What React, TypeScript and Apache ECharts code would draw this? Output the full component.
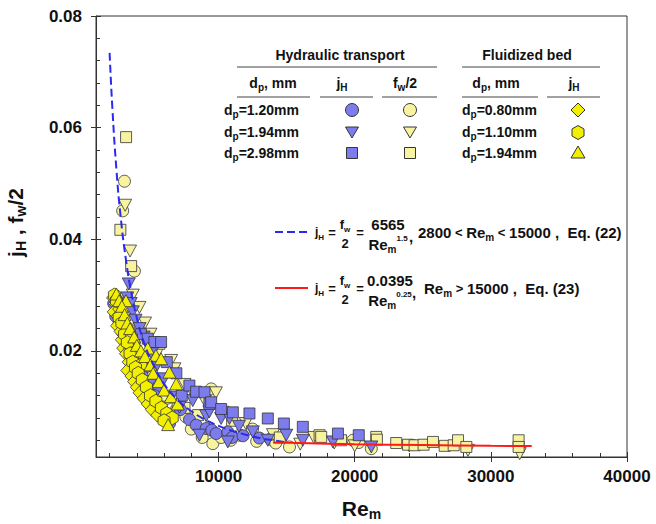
import React, { useEffect, useRef } from 'react';
import * as echarts from 'echarts';

const FONT = '"Liberation Sans", Arial, Helvetica, sans-serif';

// Axis tick values
const xTicks = [10000, 20000, 30000, 40000];
const yTicks = [0.02, 0.04, 0.06, 0.08];

// Correlation curves (Re_m, j_H)
const reEq22 = [2000, 2200, 2500, 2800, 3200, 3600, 4000, 4500, 5000, 6000, 7000, 8000, 9000, 10000, 11000, 12000, 13000, 14000, 15000];
const jEq22 = [0.0734, 0.0636, 0.0525, 0.0443, 0.0363, 0.0304, 0.0259, 0.0217, 0.0186, 0.0141, 0.0112, 0.0092, 0.0077, 0.0066, 0.0057, 0.005, 0.0044, 0.004, 0.0036];
const reEq23 = [14000, 16000, 20000, 25000, 30000, 33000];
const jEq23 = [0.0036, 0.0035, 0.0033, 0.00315, 0.003, 0.00295];

// Hydraulic transport, f_w/2 (light yellow)
const fw120: number[][] = [[3090, 0.0504], [2960, 0.0451], [3820, 0.0343], [2600, 0.029], [3000, 0.0265], [3400, 0.024], [3800, 0.0215], [4300, 0.019], [4900, 0.0165], [5500, 0.014], [6200, 0.0115], [6900, 0.0095], [9460, 0.0132], [9580, 0.0034], [11540, 0.0049], [15210, 0.0028], [19870, 0.004], [20300, 0.0036], [21220, 0.0025], [8000, 0.006], [12500, 0.006], [7600, 0.0082], [10200, 0.0045], [13800, 0.0042], [8800, 0.0045], [10900, 0.004], [12800, 0.0038], [14200, 0.0035]];
const fw194: number[][] = [[3140, 0.0461], [3500, 0.0379], [4190, 0.0278], [3700, 0.03], [4600, 0.025], [5000, 0.023], [6520, 0.0183], [6760, 0.0168], [5600, 0.02], [7500, 0.014], [8200, 0.012], [9000, 0.011], [10300, 0.009], [12000, 0.007], [14000, 0.005], [17000, 0.0045], [20000, 0.003], [24000, 0.003], [28320, 0.0022], [32120, 0.0016], [9800, 0.0125], [16000, 0.0033], [18500, 0.0035]];
const fw298: number[][] = [[3210, 0.0583], [2790, 0.0417], [3580, 0.0352], [2500, 0.028], [2900, 0.0255], [3300, 0.0235], [3800, 0.0205], [4200, 0.0185], [4700, 0.016], [5300, 0.014], [5660, 0.0213], [6000, 0.012], [7000, 0.01], [7500, 0.0098], [8500, 0.0085], [14500, 0.0045], [17420, 0.0049], [17540, 0.0046], [19000, 0.004], [21580, 0.0046], [21630, 0.0041], [23050, 0.0035], [23920, 0.0032], [24400, 0.0031], [25060, 0.0032], [25750, 0.0037], [26610, 0.003], [27270, 0.0031], [27590, 0.004], [28200, 0.0028], [32040, 0.004], [32040, 0.0028], [11000, 0.0075]];

// Hydraulic transport, j_H (blue)
const jh120: number[][] = [[2300, 0.0285], [2570, 0.0275], [2450, 0.0262], [2700, 0.025], [2900, 0.0235], [3100, 0.022], [3400, 0.02], [3700, 0.0185], [4100, 0.0175], [4630, 0.0171], [4400, 0.0155], [5000, 0.0145], [5610, 0.0137], [5300, 0.012], [5900, 0.0088], [6400, 0.007], [7200, 0.0095], [7865, 0.0077], [8355, 0.0067], [9090, 0.0061], [9500, 0.0058], [9826, 0.0052], [10680, 0.0055], [11000, 0.0045], [11800, 0.0048], [13000, 0.0044]];
const jh194: number[][] = [[3405, 0.032], [3300, 0.0295], [3550, 0.0285], [3700, 0.027], [3900, 0.0255], [4200, 0.024], [4500, 0.0225], [4800, 0.021], [5100, 0.0195], [5500, 0.0175], [6000, 0.015], [6517, 0.0117], [7130, 0.0099], [8110, 0.0111], [9090, 0.0084], [9330, 0.0091], [10190, 0.0079], [10800, 0.0079], [8600, 0.0049], [10680, 0.0037], [11500, 0.0065], [12520, 0.0055], [13620, 0.004], [14970, 0.0049], [16190, 0.004], [18400, 0.0037], [21220, 0.0028]];
const jh298: number[][] = [[4300, 0.023], [4800, 0.0222], [5290, 0.0216], [5780, 0.0216], [6200, 0.018], [6900, 0.016], [7300, 0.012], [7860, 0.0138], [8350, 0.0127], [8970, 0.0126], [9330, 0.0105], [9460, 0.0108], [10190, 0.0096], [11050, 0.009], [12270, 0.0088], [13620, 0.0079], [14800, 0.007], [16190, 0.0064], [18770, 0.0052], [20300, 0.0049]];

// Fluidized bed, j_H (bright yellow)
const fb080: number[][] = [[2250, 0.0295], [2400, 0.0285], [2300, 0.027], [2700, 0.0275], [2600, 0.0262], [2550, 0.0245], [2800, 0.0235], [2900, 0.022], [3000, 0.0205], [3500, 0.0205], [3200, 0.0195], [3400, 0.018], [3300, 0.0165], [3600, 0.0155], [3800, 0.0145], [4000, 0.0135], [4200, 0.0125], [4500, 0.0115], [4800, 0.0105], [5100, 0.0095], [5500, 0.0085]];
const fb110: number[][] = [[2350, 0.03], [2500, 0.029], [2700, 0.026], [2900, 0.025], [3100, 0.023], [3600, 0.0225], [3300, 0.0215], [3500, 0.0195], [3700, 0.018], [4300, 0.0175], [3900, 0.017], [4100, 0.016], [4400, 0.0148], [4700, 0.0135], [5000, 0.012], [5400, 0.011], [5800, 0.0098], [6200, 0.0088], [6600, 0.008], [6000, 0.0075]];
const fb194: number[][] = [[2500, 0.0302], [2700, 0.029], [3200, 0.029], [2900, 0.028], [3100, 0.0265], [3300, 0.025], [3500, 0.024], [3800, 0.0225], [4000, 0.021], [4800, 0.0205], [4300, 0.02], [4600, 0.019], [5400, 0.0192], [5780, 0.0186], [5000, 0.0175], [6390, 0.0162], [5200, 0.016], [5600, 0.0145], [6890, 0.0141], [6000, 0.013], [6500, 0.0118], [7000, 0.0105], [6300, 0.0068]];

const BLUE = '#7C7CEC';
const LYEL = '#F7F3A0';
const YEL = '#F2F000';
const EDGE = '#353535';
const HEX = 'path://M5,0 L10,2.6 L10,7.4 L5,10 L0,7.4 L0,2.6 Z';

const sub = (fs: number) => ({ fontSize: fs, fontWeight: 'bold', fontFamily: FONT, lineHeight: fs, verticalAlign: 'bottom', fill: '#111', color: '#111' });
const sup = (fs: number) => ({ fontSize: fs, fontWeight: 'bold', fontFamily: FONT, lineHeight: fs, verticalAlign: 'top', fill: '#111', color: '#111' });
const main = (fs: number, lh: number) => ({ fontSize: fs, fontWeight: 'bold', fontFamily: FONT, lineHeight: lh, verticalAlign: 'middle', fill: '#111', color: '#111' });

const RICH14 = { n: main(14, 18), s: sub(10) };
const RICH15 = { n: main(15, 20), s: sub(10), u: sup(8), o: main(13, 20) };
const RICHSM = { n: main(13, 18), j: main(12, 18), s: sub(8) };

function txt(x: number, y: number, text: string, rich: any, align = 'left') {
  return {
    type: 'text', x, y, z: 100, silent: true,
    style: { text, rich, font: `bold 14px ${FONT}`, fill: '#111', align, verticalAlign: 'middle', textAlign: align, textVerticalAlign: 'middle' },
  };
}
function hline(x1: number, x2: number, y: number, color = '#444', width = 1, dash?: number[]) {
  return { type: 'line', z: 100, silent: true, shape: { x1, y1: y, x2, y2: y }, style: { stroke: color, lineWidth: width, lineDash: dash } };
}
const symStyle = (fill: string) => ({ fill, stroke: EDGE, lineWidth: 1 });

function buildGraphic() {
  const g: any[] = [];
  // table headers
  g.push(txt(340, 55, 'Hydraulic transport', { n: main(16.5, 18) }, 'center'));
  g.push(txt(527, 55, 'Fluidized bed', { n: main(16.5, 18) }, 'center'));
  g.push(hline(237, 437, 67));
  g.push(hline(462, 600, 67));
  g.push(txt(273, 83, '{n|d}{s|p}{n|, mm}', RICH14, 'center'));
  g.push(txt(342, 83, '{n|j}{s|H}', RICH14, 'center'));
  g.push(txt(405, 83, '{n|f}{s|w}{n|/2}', RICH14, 'center'));
  g.push(txt(496, 83, '{n|d}{s|p}{n|, mm}', RICH14, 'center'));
  g.push(txt(574, 83, '{n|j}{s|H}', RICH14, 'center'));
  g.push(hline(237, 310, 97));
  g.push(hline(320, 373, 97));
  g.push(hline(382, 437, 97));
  g.push(hline(462, 538, 97));
  g.push(hline(547, 600, 97));
  const rows = [110, 132, 153];
  const htNames = ['1.20', '1.94', '2.98'];
  const fbNames = ['0.80', '1.10', '1.94'];
  rows.forEach((y, i) => {
    g.push(txt(224, y, `{n|d}{s|p}{n|=${htNames[i]}mm}`, RICH14));
    g.push(txt(462, y, `{n|d}{s|p}{n|=${fbNames[i]}mm}`, RICH14));
  });
  // hydraulic symbols
  g.push({ type: 'circle', z: 100, shape: { cx: 352, cy: 110, r: 6.5 }, style: symStyle(BLUE) });
  g.push({ type: 'circle', z: 100, shape: { cx: 410, cy: 110, r: 6.5 }, style: symStyle(LYEL) });
  g.push({ type: 'polygon', z: 100, shape: { points: [[345.5, 127], [358.5, 127], [352, 138]] }, style: symStyle(BLUE) });
  g.push({ type: 'polygon', z: 100, shape: { points: [[403.5, 127], [416.5, 127], [410, 138]] }, style: symStyle(LYEL) });
  g.push({ type: 'rect', z: 100, shape: { x: 346.5, y: 147.5, width: 11, height: 11 }, style: symStyle(BLUE) });
  g.push({ type: 'rect', z: 100, shape: { x: 404.5, y: 147.5, width: 11, height: 11 }, style: symStyle(LYEL) });
  // fluidized symbols
  g.push({ type: 'polygon', z: 100, shape: { points: [[578, 103], [585, 110], [578, 117], [571, 110]] }, style: symStyle(YEL) });
  g.push({ type: 'polygon', z: 100, shape: { points: [[578, 125.5], [584, 129], [584, 136], [578, 139.5], [572, 136], [572, 129]] }, style: symStyle(YEL) });
  g.push({ type: 'polygon', z: 100, shape: { points: [[578, 146], [585, 158], [571, 158]] }, style: symStyle(YEL) });

  // Equation 22
  g.push(hline(275, 308, 232, '#2a2af0', 2, [8, 4]));
  g.push(txt(315, 232, '{j|j}{s|H}', RICHSM));
  g.push(txt(332, 232, '{n|=}', RICHSM, 'center'));
  g.push(txt(345, 224, '{n|f}{s|w}', RICHSM, 'center'));
  g.push(txt(345, 243, '{n|2}', RICHSM, 'center'));
  g.push(txt(360, 232, '{n|=}', RICHSM, 'center'));
  g.push(txt(388, 224, '{n|6565}', RICH15, 'center'));
  g.push(txt(388, 244, '{n|Re}{s|m}{u|1.5}', RICH15, 'center'));
  g.push(txt(409, 236, '{n|,}', RICH15));
  g.push(txt(418, 232, '{n|2800}{o| < }{n|Re}{s|m}{o| < }{n|15000}{n| ,  Eq. (22)}', RICH15));

  // Equation 23
  g.push(hline(275, 308, 288, '#ff1a1a', 2));
  g.push(txt(315, 288, '{j|j}{s|H}', RICHSM));
  g.push(txt(332, 288, '{n|=}', RICHSM, 'center'));
  g.push(txt(345, 280, '{n|f}{s|w}', RICHSM, 'center'));
  g.push(txt(345, 299, '{n|2}', RICHSM, 'center'));
  g.push(txt(360, 288, '{n|=}', RICHSM, 'center'));
  g.push(txt(390, 280, '{n|0.0395}', RICH15, 'center'));
  g.push(txt(390, 300, '{n|Re}{s|m}{u|0.25}', RICH15, 'center'));
  g.push(txt(412, 292, '{n|,}', RICH15));
  g.push(txt(424, 288, '{n|Re}{s|m}{o| > }{n|15000}{n| ,  Eq. (23)}', RICH15));
  return g;
}

function scatter(name: string, data: number[][], symbol: string, size: any, color: string, rotate = 0, z = 2) {
  return {
    type: 'scatter', name, data, symbol, symbolSize: size, symbolRotate: rotate, z,
    itemStyle: { color, borderColor: EDGE, borderWidth: 0.8, opacity: 1 },
    emphasis: { disabled: true },
  };
}

const tickStyle = { color: '#333', width: 1 };

export default function App() {
  const ref = useRef<HTMLDivElement>(null);
  useEffect(() => {
    if (!ref.current) return;
    const chart = echarts.init(ref.current, undefined, { renderer: 'svg' });
    const labelFont = { fontSize: 17, fontWeight: 'bold', color: '#111', fontFamily: FONT };
    const nameRich = {
      a: { fontSize: 21, fontWeight: 'bold', fontFamily: FONT, color: '#111', lineHeight: 26 },
      b: { fontSize: 14, fontWeight: 'bold', fontFamily: FONT, color: '#111', lineHeight: 14, verticalAlign: 'bottom' },
    };
    const option: any = {
      animation: false,
      backgroundColor: '#fff',
      grid: { left: 96, top: 16, width: 531, height: 441, show: true, borderColor: '#333', borderWidth: 1, containLabel: false, outerBoundsMode: 'none' },
      xAxis: [
        {
          type: 'value', min: 1000, max: 40000, splitNumber: 4, position: 'bottom',
          name: '{a|Re}{b|m}', nameLocation: 'middle', nameGap: 38,
          nameTextStyle: { rich: nameRich },
          axisLine: { show: true, onZero: false, lineStyle: tickStyle },
          axisTick: { show: true, inside: true, length: 5, customValues: xTicks, lineStyle: tickStyle },
          minorTick: { show: true, splitNumber: 5, length: 4, lineStyle: tickStyle },
          axisLabel: { ...labelFont, customValues: xTicks, margin: 11, formatter: (v: number) => String(v) },
          splitLine: { show: false },
        },
        {
          type: 'value', min: 1000, max: 40000, splitNumber: 4, position: 'bottom',
          axisLine: { show: false },
          axisTick: { show: true, inside: false, length: 5, customValues: xTicks, lineStyle: tickStyle },
          minorTick: { show: false },
          axisLabel: { show: false },
          splitLine: { show: false },
        },
      ],
      yAxis: [
        {
          type: 'value', min: 0.001, max: 0.08, splitNumber: 4, position: 'left',
          name: '{a|j}{b|H}{a| , f}{b|w}{a|/2}', nameLocation: 'middle', nameGap: 68,
          nameTextStyle: { rich: nameRich, padding: [0, 0, 0, 28] },
          axisLine: { show: true, onZero: false, lineStyle: tickStyle },
          axisTick: { show: true, inside: true, length: 5, customValues: yTicks, lineStyle: tickStyle },
          minorTick: { show: true, splitNumber: 5, length: 4, lineStyle: tickStyle },
          axisLabel: { ...labelFont, customValues: yTicks, margin: 14, formatter: (v: number) => v.toFixed(2) },
          splitLine: { show: false },
        },
        {
          type: 'value', min: 0.001, max: 0.08, splitNumber: 4, position: 'left',
          axisLine: { show: false },
          axisTick: { show: true, inside: false, length: 5, customValues: yTicks, lineStyle: tickStyle },
          minorTick: { show: false },
          axisLabel: { show: false },
          splitLine: { show: false },
        },
      ],
      series: [
        scatter('fw 1.20', fw120, 'circle', 12, LYEL),
        scatter('fw 1.94', fw194, 'triangle', [13, 12], LYEL, 180),
        scatter('fw 2.98', fw298, 'rect', 11, LYEL),
        scatter('jH 1.20', jh120, 'circle', 12, BLUE, 0, 3),
        scatter('jH 1.94', jh194, 'triangle', [13, 12], BLUE, 180, 3),
        scatter('jH 2.98', jh298, 'rect', 11, BLUE, 0, 3),
        scatter('FB 0.80', fb080, 'diamond', [13, 14], YEL, 0, 4),
        scatter('FB 1.10', fb110, HEX, [12, 14], YEL, 0, 4),
        scatter('FB 1.94', fb194, 'triangle', [13, 12], YEL, 0, 4),
        {
          type: 'line', name: 'Eq. (22)', z: 10, symbol: 'none', smooth: true,
          data: reEq22.map((r, i) => [r, jEq22[i]]),
          lineStyle: { color: '#2a2af0', width: 2, type: [8, 4] },
        },
        {
          type: 'line', name: 'Eq. (23)', z: 10, symbol: 'none', smooth: true,
          data: reEq23.map((r, i) => [r, jEq23[i]]),
          lineStyle: { color: '#ff1a1a', width: 2 },
        },
      ],
      graphic: buildGraphic(),
    };
    chart.setOption(option);
    return () => chart.dispose();
  }, []);
  return <div ref={ref} style={{ position: 'fixed', left: 0, top: 0, width: 656, height: 524, background: '#fff' }} />;
}
